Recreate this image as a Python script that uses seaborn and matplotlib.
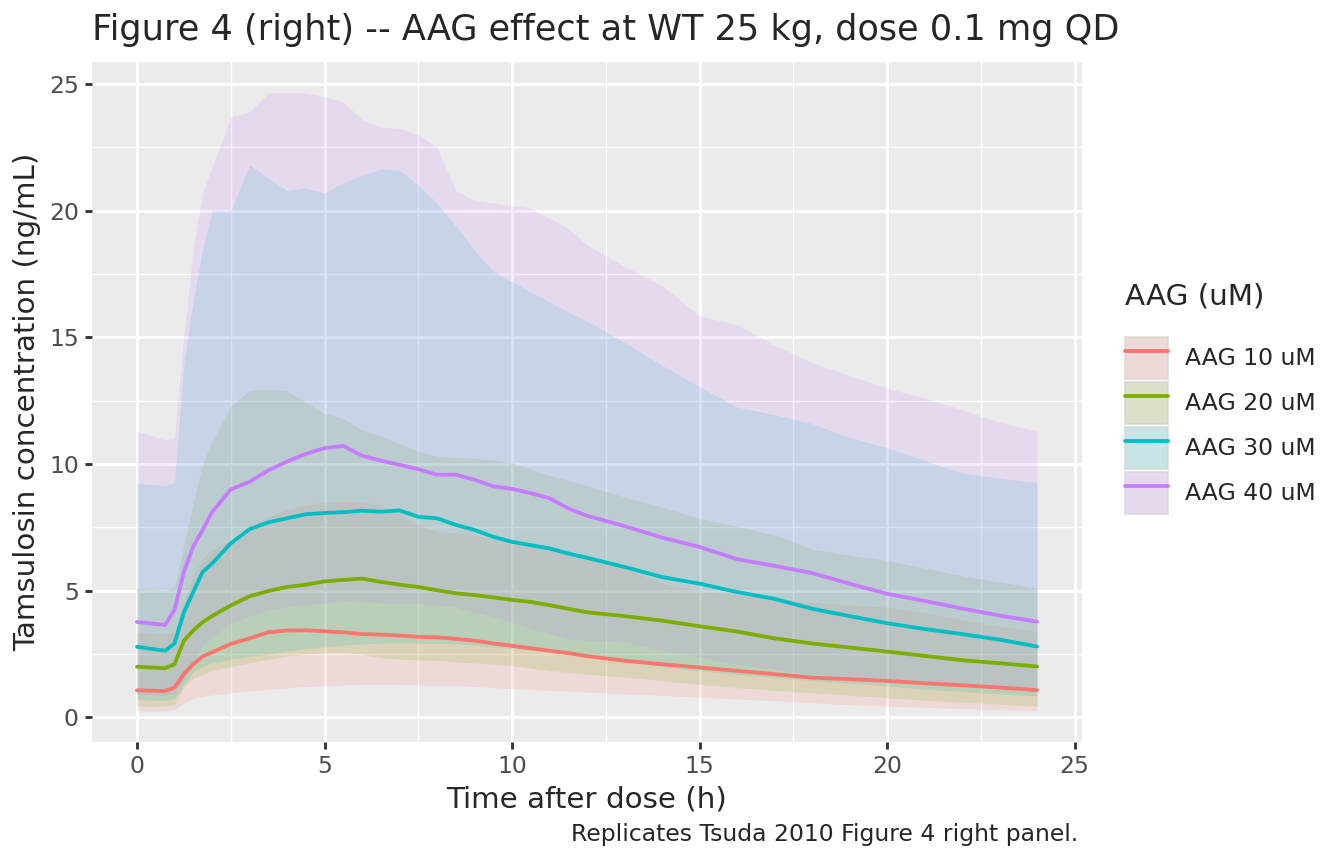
import numpy as np
import pandas as pd
import seaborn as sb
import matplotlib.pyplot as plt
from matplotlib.patches import Patch
from matplotlib.lines import Line2D
from matplotlib.legend_handler import HandlerTuple

# time grid (h)
times = [0, 0.75, 1, 1.25, 1.5, 1.75,
         2, 2.5, 3, 3.5, 4, 4.5, 5, 5.5, 6, 6.5, 7, 7.5, 8, 8.5, 9, 9.5, 10, 10.5, 11, 11.5, 12,
         13, 14, 15, 16, 17, 18, 19, 20, 21, 22, 23, 24]

groups = ['AAG 10 uM', 'AAG 20 uM', 'AAG 30 uM', 'AAG 40 uM']
colors = ['#F8766D', '#7CAE00', '#00BFC4', '#C77CFF']

# median concentration (ng/mL)
mid_10 = [1.07, 1.04, 1.18, 1.71, 2.1, 2.41,
          2.57, 2.9, 3.12, 3.36, 3.43, 3.44, 3.4, 3.36, 3.29, 3.27, 3.23, 3.18, 3.16, 3.1, 3.03, 2.92, 2.83, 2.73, 2.63, 2.54, 2.42,
          2.24, 2.1, 1.97, 1.84, 1.71, 1.57, 1.51, 1.44, 1.35, 1.27, 1.18, 1.08]
mid_20 = [2.0, 1.94, 2.1, 3.03, 3.43, 3.76,
          4.0, 4.42, 4.78, 4.99, 5.15, 5.24, 5.37, 5.43, 5.48, 5.35, 5.24, 5.15, 5.02, 4.9, 4.83, 4.74, 4.64, 4.56, 4.43, 4.29, 4.15,
          4.0, 3.82, 3.6, 3.39, 3.12, 2.92, 2.76, 2.6, 2.43, 2.26, 2.14, 2.01]
mid_30 = [2.79, 2.63, 2.92, 4.15, 4.95, 5.74,
          6.07, 6.87, 7.43, 7.7, 7.86, 8.02, 8.07, 8.1, 8.16, 8.12, 8.17, 7.92, 7.86, 7.6, 7.4, 7.13, 6.93, 6.8, 6.67, 6.47, 6.3,
          5.94, 5.54, 5.28, 4.95, 4.68, 4.29, 4.0, 3.72, 3.49, 3.29, 3.07, 2.8]
mid_40 = [3.77, 3.65, 4.25, 5.75, 6.75, 7.4,
          8.1, 9.0, 9.3, 9.75, 10.1, 10.4, 10.63, 10.72, 10.33, 10.14, 9.97, 9.8, 9.58, 9.58, 9.38, 9.12, 9.02, 8.85, 8.65, 8.25, 7.96,
          7.55, 7.1, 6.73, 6.25, 5.98, 5.7, 5.28, 4.88, 4.6, 4.3, 4.02, 3.78]

# lower band edge
lo_10 = [0.25, 0.25, 0.3, 0.55, 0.75, 0.83,
         0.88, 0.97, 1.05, 1.1, 1.17, 1.22, 1.25, 1.28, 1.3, 1.3, 1.3, 1.28, 1.26, 1.25, 1.22, 1.18, 1.14, 1.1, 1.07, 1.04, 1.0,
         0.93, 0.87, 0.8, 0.73, 0.66, 0.58, 0.5, 0.45, 0.4, 0.35, 0.3, 0.26]
lo_20 = [0.45, 0.45, 0.5, 1.2, 1.55, 1.7,
         1.85, 2.0, 2.15, 2.3, 2.42, 2.5, 2.55, 2.57, 2.5, 2.35, 2.3, 2.28, 2.25, 2.2, 2.15, 2.1, 2.05, 1.95, 1.85, 1.78, 1.7,
         1.6, 1.45, 1.3, 1.18, 1.07, 0.97, 0.88, 0.78, 0.68, 0.6, 0.52, 0.45]
lo_30 = [0.7, 0.68, 0.75, 1.3, 1.8, 2.0,
         2.15, 2.3, 2.42, 2.5, 2.62, 2.72, 2.78, 2.85, 2.9, 2.93, 2.94, 2.93, 2.92, 2.9, 2.85, 2.78, 2.72, 2.65, 2.58, 2.5, 2.42,
         2.2, 2.0, 1.85, 1.7, 1.58, 1.45, 1.35, 1.24, 1.12, 1.02, 0.93, 0.85]
lo_40 = [0.9, 0.88, 0.95, 1.5, 2.1, 2.85,
         3.2, 3.7, 4.0, 4.25, 4.38, 4.45, 4.5, 4.58, 4.55, 4.52, 4.5, 4.48, 4.42, 4.35, 4.15, 3.98, 3.75, 3.5, 3.3, 3.1, 3.03,
         2.98, 2.65, 2.38, 2.1, 1.9, 1.7, 1.55, 1.38, 1.3, 1.22, 1.15, 1.1]

# upper band edge
hi_10 = [3.36, 3.3, 3.4, 4.6, 5.6, 6.3,
         6.6, 7.0, 7.5, 7.95, 8.2, 8.4, 8.5, 8.52, 8.5, 8.4, 8.0, 7.6, 7.35, 7.28, 7.2, 7.05, 6.93, 6.8, 6.67, 6.55, 6.45,
         5.9, 5.3, 5.0, 4.85, 4.7, 4.55, 4.45, 4.35, 4.15, 3.85, 3.6, 3.4]
hi_20 = [5.1, 5.0, 5.15, 6.8, 8.5, 10.0,
         10.9, 12.3, 12.9, 12.95, 12.9, 12.45, 12.0, 11.8, 11.35, 11.1, 10.8, 10.5, 10.3, 10.27, 10.24, 10.15, 10.04, 9.8, 9.55, 9.35, 9.15,
         8.7, 8.3, 7.86, 7.55, 7.2, 6.65, 6.4, 6.2, 5.9, 5.6, 5.35, 5.1]
hi_30 = [9.25, 9.15, 9.3, 14.0, 16.45, 18.5,
         20.0, 20.0, 21.8, 21.3, 20.8, 20.9, 20.7, 21.1, 21.4, 21.65, 21.6, 21.0, 20.3, 19.4, 18.45, 17.6, 17.2, 16.8, 16.4, 16.0, 15.65,
         14.8, 13.9, 13.05, 12.25, 11.95, 11.6, 11.05, 10.65, 10.15, 9.65, 9.45, 9.28]
hi_40 = [11.3, 10.95, 11.05, 15.1, 18.5, 20.7,
         21.7, 23.7, 23.9, 24.65, 24.65, 24.65, 24.5, 24.3, 23.6, 23.3, 23.25, 23.0, 22.5, 20.8, 20.4, 20.3, 20.2, 20.1, 19.7, 19.3, 18.65,
         17.8, 17.05, 15.85, 15.5, 14.7, 14.0, 13.5, 13.0, 12.6, 12.15, 11.65, 11.3]

mids = [mid_10, mid_20, mid_30, mid_40]
los = [lo_10, lo_20, lo_30, lo_40]
his = [hi_10, hi_20, hi_30, hi_40]

df = pd.concat([pd.DataFrame({'time': times, 'conc': m, 'lo': l, 'hi': h, 'group': g})
                for g, m, l, h in zip(groups, mids, los, his)], ignore_index=True)

BG = '#EBEBEB'
ALPHA = 0.15
LW = 1.42

sb.set_style('white')
plt.rcParams['font.family'] = ['DejaVu Sans']

fig = plt.figure(figsize=(7, 4.5), dpi=192)
ax = fig.add_axes([92 / 1344, 1 - 742 / 864, 990 / 1344, 680 / 864])
ax.set_facecolor(BG)

# ribbons
for g, c in zip(groups, colors):
    d = df[df.group == g]
    ax.fill_between(d.time, d.lo, d.hi, color=c, alpha=ALPHA, lw=0, zorder=2)

# median lines
sb.lineplot(data=df, x='time', y='conc', hue='group', hue_order=groups,
            palette=colors, lw=LW, legend=False, ax=ax, zorder=3)

# limits like ggplot expansion
xr = max(times) - min(times)
ax.set_xlim(min(times) - 0.05 * xr, max(times) + 0.05 * xr)
ymin, ymax = df.lo.min(), df.hi.max()
yr = ymax - ymin
ax.set_ylim(ymin - 0.05 * yr, ymax + 0.05 * yr)

ax.set_xticks([0, 5, 10, 15, 20, 25])
ax.set_yticks([0, 5, 10, 15, 20, 25])
ax.set_xticks([2.5, 7.5, 12.5, 17.5, 22.5], minor=True)
ax.set_yticks([2.5, 7.5, 12.5, 17.5, 22.5], minor=True)
ax.grid(which='major', color='white', lw=1.07, zorder=1)
ax.grid(which='minor', color='white', lw=0.53, zorder=1)
ax.set_axisbelow(True)
for s in ax.spines.values():
    s.set_visible(False)
ax.tick_params(which='major', length=2.75, width=1.07, color='#333333',
               labelsize=8.8, labelcolor='#4D4D4D', pad=2.2,
               bottom=True, left=True)
ax.tick_params(which='minor', length=0)

ax.set_xlabel('Time after dose (h)', fontsize=11, labelpad=2.75)
ax.set_ylabel('Tamsulosin concentration (ng/mL)', fontsize=11, labelpad=2.75)

fig.text(92 / 1344, 1 - 30 / 864, 'Figure 4 (right) -- AAG effect at WT 25 kg, dose 0.1 mg QD',
         fontsize=13.2, ha='left', va='center')
fig.text(1078 / 1344, 1 - 834 / 864, 'Replicates Tsuda 2010 Figure 4 right panel.',
         fontsize=8.8, ha='right', va='center')

# legend: grey key, ribbon fill, line on top
handles = [(Patch(facecolor=BG, edgecolor='#E3E3E3', lw=0.8),
            Patch(facecolor=c, alpha=ALPHA, edgecolor='none'),
            Line2D([], [], color=c, lw=LW)) for c in colors]
leg = fig.legend(handles, groups, title='AAG (uM)', loc='center left',
                 bbox_to_anchor=(1125 / 1344, 1 - 398 / 864), frameon=False,
                 handler_map={tuple: HandlerTuple(ndivide=1, pad=0)},
                 fontsize=8.8, title_fontsize=11, handlelength=1.83, handleheight=2.39,
                 labelspacing=0.12, handletextpad=0.72, borderpad=0, borderaxespad=0,
                 alignment='left')
leg._legend_box.sep = 10

plt.savefig('out.png', dpi=192)
